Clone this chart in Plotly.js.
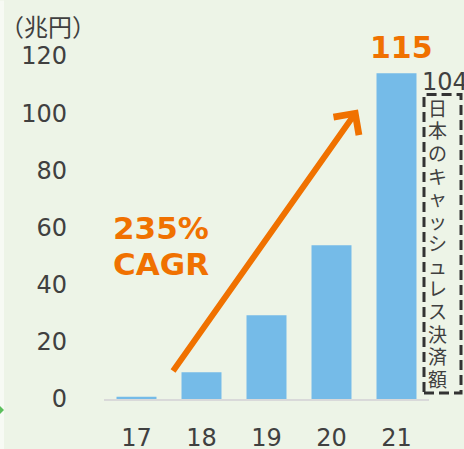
<!DOCTYPE html>
<html>
<head>
<meta charset="utf-8">
<script src="https://cdn.plot.ly/plotly-3.0.1.min.js"></script>
<style>html,body{margin:0;padding:0;background:#EDF4E7;}#chart{width:464px;height:449px;}</style>
</head>
<body>
<div id="chart"></div>
<script>
// ---- data ----
const categories = ['17', '18', '19', '20', '21'];
const values = [0.8, 9.4, 29.3, 53.8, 114];
const yTicks = [0, 20, 40, 60, 80, 100, 120];
const unitLabel = '（兆円）';
const topLabel = '115';
const growthLabels = ['235%', 'CAGR'];
const japanValueLabel = '104';
const japanCaption = '日本のキャッシュレス決済額';

// ---- layout helpers (pixel -> paper) ----
const W = 464, H = 449;
const M = {l: 104, r: 35, t: 55.5, b: 50};
const PW = W - M.l - M.r, PH = H - M.t - M.b;
const px = x => (x - M.l) / PW;
const py = y => (H - M.b - y) / PH;

const gray = '#404040';
const orange = '#F07100';
const bg = '#EDF4E7';
const tickFont = {family: 'DejaVu Sans, Verdana, sans-serif', size: 24, color: gray};

const trace = {
  type: 'bar',
  x: categories,
  y: values,
  marker: {color: '#75BBE8', line: {width: 0}},
  hoverinfo: 'skip'
};

const annotations = [
  {xref: 'paper', yref: 'paper', x: px(48), y: py(25), text: unitLabel, showarrow: false,
   xanchor: 'center', yanchor: 'middle', borderpad: 0,
   font: {family: 'Noto Sans CJK JP', size: 24, color: gray}},
  {xref: 'paper', yref: 'paper', x: px(401), y: py(47), text: topLabel, showarrow: false,
   xanchor: 'center', yanchor: 'middle',
   font: {family: 'DejaVu Sans', size: 30, color: orange, weight: 'bold'}},
  {xref: 'paper', yref: 'paper', x: px(111), y: py(228), text: growthLabels[0], showarrow: false,
   xanchor: 'left', yanchor: 'middle',
   font: {family: 'DejaVu Sans', size: 31, color: orange, weight: 'bold'}},
  {xref: 'paper', yref: 'paper', x: px(111), y: py(264), text: growthLabels[1], showarrow: false,
   xanchor: 'left', yanchor: 'middle',
   font: {family: 'DejaVu Sans', size: 31, color: orange, weight: 'bold'}},
  {xref: 'paper', yref: 'paper', x: px(420), y: py(82), text: japanValueLabel, showarrow: false,
   xanchor: 'left', yanchor: 'middle',
   font: tickFont},
  // growth arrow
  {xref: 'paper', yref: 'paper', x: px(358), y: py(109), text: '', showarrow: true,
   ax: 172 - 358, ay: 372 - 109, arrowhead: 4, arrowsize: 1, arrowwidth: 6, arrowcolor: orange,
   standoff: 0, startstandoff: 0}
];

Array.from(japanCaption).forEach((ch, i) => {
  annotations.push({xref: 'paper', yref: 'paper', x: px(437), y: py(107 + i * 22.6), text: ch,
    showarrow: false, xanchor: 'center', yanchor: 'middle', borderpad: 0,
    font: {family: 'Noto Sans CJK JP', size: 19, color: gray}});
});

const shapes = [
  {type: 'rect', xref: 'paper', yref: 'paper', x0: px(0), x1: px(4), y0: py(H), y1: py(0),
   fillcolor: '#F7FAF4', line: {width: 0}, layer: 'below'},
  {type: 'path', xref: 'paper', yref: 'paper',
   path: `M ${px(-3)} ${py(410)} L ${px(0)} ${py(406)} L ${px(4)} ${py(410)} L ${px(0)} ${py(414)} Z`,
   fillcolor: '#5CBF5C', line: {width: 0}},
  {type: 'rect', xref: 'paper', yref: 'paper', x0: px(424), x1: px(461), y0: py(393), y1: py(94),
   fillcolor: 'rgba(0,0,0,0)', line: {color: '#333333', width: 3, dash: '10px,5px'}}
];

const layout = {
  width: W, height: H,
  margin: M,
  paper_bgcolor: bg, plot_bgcolor: bg,
  showlegend: false,
  bargap: 0.385,
  xaxis: {type: 'category', range: [-0.5, 4.5], showgrid: false, zeroline: false,
          showline: true, linecolor: '#D9D9D9', linewidth: 2, ticks: '',
          tickfont: tickFont, ticklabelstandoff: 16, fixedrange: true},
  yaxis: {range: [0, 120], tickvals: yTicks, showgrid: false, zeroline: false, showline: false,
          ticks: '', tickfont: tickFont, ticklabelstandoff: 36, fixedrange: true},
  annotations: annotations,
  shapes: shapes
};

Plotly.newPlot('chart', [trace], layout, {staticPlot: true, displayModeBar: false});
</script>
</body>
</html>
